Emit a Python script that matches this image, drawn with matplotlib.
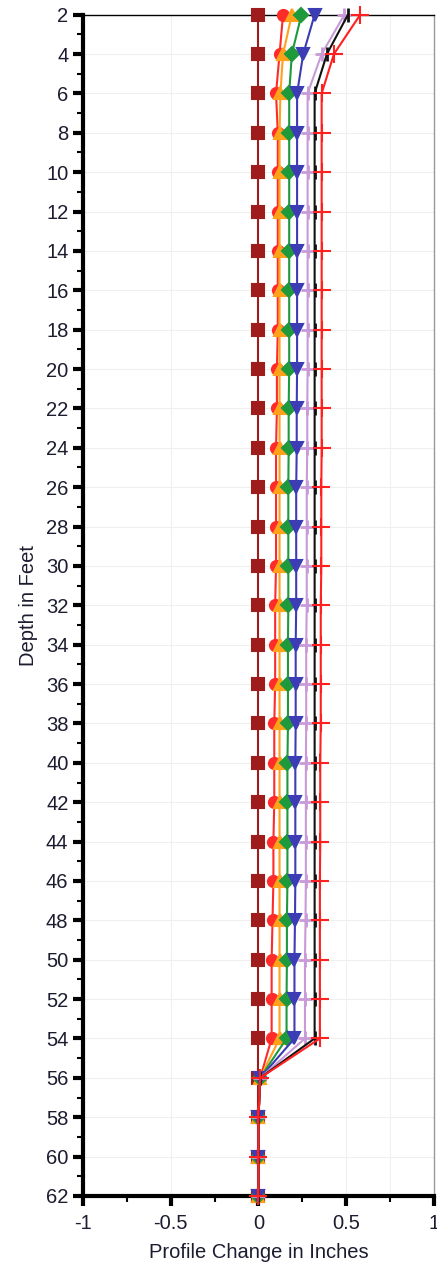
import matplotlib
matplotlib.use("Agg")
import matplotlib.pyplot as plt
import numpy as np

plt.rcParams['font.family'] = ['Liberation Sans', 'DejaVu Sans']

depths = [2, 4, 6, 8, 10, 12, 14, 16, 18, 20, 22, 24, 26, 28, 30, 32, 34, 36, 38,
          40, 42, 44, 46, 48, 50, 52, 54, 56, 58, 60, 62]

s_square = [0.0] * 31
s_circle = [0.14, 0.12, 0.10, 0.11, 0.11, 0.11, 0.11, 0.11, 0.11, 0.105, 0.105, 0.10,
            0.10, 0.10, 0.10, 0.095, 0.095, 0.095, 0.09, 0.09, 0.09, 0.085, 0.085, 0.08,
            0.075, 0.075, 0.075, 0.01, 0.0, 0.0, 0.0]
s_orange = [0.19, 0.14, 0.125, 0.12, 0.12, 0.12, 0.12, 0.12, 0.12, 0.12, 0.12, 0.12,
            0.12, 0.12, 0.12, 0.12, 0.12, 0.12, 0.12, 0.12, 0.12, 0.12, 0.12, 0.12,
            0.12, 0.12, 0.12, 0.01, 0.0, 0.0, 0.0]
s_green = [0.245, 0.19, 0.175, 0.175, 0.175, 0.175, 0.175, 0.175, 0.175, 0.175, 0.172,
           0.172, 0.17, 0.17, 0.17, 0.17, 0.168, 0.168, 0.168, 0.165, 0.165, 0.165, 0.165,
           0.162, 0.162, 0.16, 0.16, 0.01, 0.0, 0.0, 0.0]
s_blue = [0.32, 0.255, 0.22, 0.22, 0.22, 0.22, 0.22, 0.22, 0.22, 0.22, 0.218, 0.218,
          0.215, 0.215, 0.215, 0.215, 0.212, 0.212, 0.212, 0.21, 0.21, 0.21, 0.21,
          0.208, 0.205, 0.205, 0.205, 0.01, 0.0, 0.0, 0.0]
s_pink = [0.49, 0.36, 0.28, 0.28, 0.28, 0.28, 0.28, 0.28, 0.28, 0.28, 0.278, 0.278,
          0.275, 0.275, 0.275, 0.275, 0.272, 0.272, 0.272, 0.27, 0.27, 0.27, 0.27,
          0.268, 0.265, 0.265, 0.265, 0.01, 0.0, 0.0, 0.0]
s_black = [0.51, 0.39, 0.32, 0.32, 0.32, 0.32, 0.32, 0.32, 0.32, 0.32, 0.32, 0.32,
           0.32, 0.32, 0.32, 0.32, 0.32, 0.32, 0.32, 0.32, 0.32, 0.32, 0.32, 0.32,
           0.32, 0.32, 0.32, 0.01, 0.0, 0.0, 0.0]
s_redplus = [0.58, 0.43, 0.36, 0.36, 0.36, 0.36, 0.36, 0.36, 0.36, 0.36, 0.36, 0.36,
             0.358, 0.358, 0.358, 0.355, 0.355, 0.355, 0.355, 0.352, 0.352, 0.352, 0.35,
             0.35, 0.35, 0.35, 0.35, 0.01, 0.0, 0.0, 0.0]

x_ticks = [-1, -0.5, 0, 0.5, 1]
x_tick_labels = ['-1', '-0.5', '0', '0.5', '1']
y_ticks = list(range(2, 63, 2))

fig = plt.figure(figsize=(4.37, 12.73), dpi=100)
ax = fig.add_axes([0.19, 0.0605, 0.803, 0.928])

series = [
    (s_square, '#9e1c1c', 's', 8, 1.5),
    (s_circle, '#ff2a2a', 'o', 8, 1.5),
    (s_orange, '#ffa21a', '^', 8, 1.5),
    (s_green, '#1e9a3c', 'D', 7, 1.5),
    (s_blue, '#3c3cb4', 'v', 8, 1.5),
    (s_pink, '#c89ad8', '+', 10, 2.0),
    (s_black, '#111111', '|', 10, 2.0),
    (s_redplus, '#ff2020', '+', 13, 1.5),
]
for vals, col, mk, ms, mew in series:
    ax.plot(vals, depths, color=col, marker=mk, markersize=ms, linewidth=1.5,
            markeredgewidth=mew, markeredgecolor=col, markerfacecolor=col,
            clip_on=False, zorder=3)

ax.set_xlim(-1, 1)
ax.set_ylim(62, 2)
ax.set_xticks(x_ticks)
ax.set_xticklabels(x_tick_labels)
ax.set_xticks(np.arange(-1, 1.01, 0.25), minor=True)
ax.set_yticks(y_ticks)
ax.set_yticks(range(3, 62, 2), minor=True)

for y in y_ticks:
    ax.axhline(y, color='#efefef', linewidth=0.8, zorder=0)
for x in [-0.5, 0.5, 0.75]:
    ax.axvline(x, color='#f0f0f0', linewidth=0.8, zorder=0)

ax.tick_params(axis='both', which='major', direction='out', length=7, width=3,
               labelsize=14.5, colors='black', labelcolor='#1c1c30')
ax.tick_params(axis='x', which='major', pad=6)
ax.tick_params(axis='both', which='minor', direction='out', length=4, width=1.5,
               colors='black')
ax.spines['left'].set_linewidth(3)
ax.spines['bottom'].set_linewidth(3)
ax.spines['top'].set_linewidth(1)
ax.spines['right'].set_linewidth(1)
ax.spines['right'].set_color('#999999')

ax.set_xlabel('Profile Change in Inches', fontsize=14.5, color='#1c1c30', labelpad=7)
ax.set_ylabel('Depth in Feet', fontsize=14.5, color='#1c1c30', labelpad=6)

fig.savefig('out.png', dpi=100)
